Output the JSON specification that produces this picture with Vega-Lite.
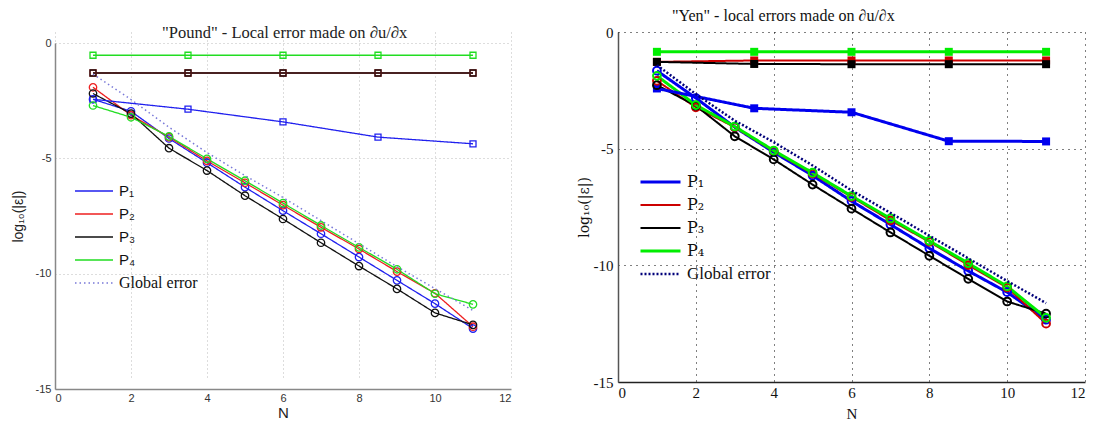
{
  "$schema": "https://vega.github.io/schema/vega-lite/v6.json",
  "padding": {"left": 11, "top": 8, "right": 5, "bottom": 0},
  "spacing": 66,
  "background": "white",
  "config": {"view": {"stroke": null}},
  "datasets": {
    "left": [
      {"s": "P₁", "k": "ci", "N": 1, "v": -2.44}, {"s": "P₁", "k": "ci", "N": 2, "v": -2.96}, {"s": "P₁", "k": "ci", "N": 3, "v": -4.14}, {"s": "P₁", "k": "ci", "N": 4, "v": -5.19}, {"s": "P₁", "k": "ci", "N": 5, "v": -6.25}, {"s": "P₁", "k": "ci", "N": 6, "v": -7.27}, {"s": "P₁", "k": "ci", "N": 7, "v": -8.27}, {"s": "P₁", "k": "ci", "N": 8, "v": -9.28}, {"s": "P₁", "k": "ci", "N": 9, "v": -10.29}, {"s": "P₁", "k": "ci", "N": 10, "v": -11.3}, {"s": "P₁", "k": "ci", "N": 11, "v": -12.38},
      {"s": "P₂", "k": "ci", "N": 1, "v": -1.92}, {"s": "P₂", "k": "ci", "N": 2, "v": -3.13}, {"s": "P₂", "k": "ci", "N": 3, "v": -4.08}, {"s": "P₂", "k": "ci", "N": 4, "v": -5.11}, {"s": "P₂", "k": "ci", "N": 5, "v": -6.06}, {"s": "P₂", "k": "ci", "N": 6, "v": -7.03}, {"s": "P₂", "k": "ci", "N": 7, "v": -7.99}, {"s": "P₂", "k": "ci", "N": 8, "v": -8.93}, {"s": "P₂", "k": "ci", "N": 9, "v": -9.91}, {"s": "P₂", "k": "ci", "N": 10, "v": -10.85}, {"s": "P₂", "k": "ci", "N": 11, "v": -12.3},
      {"s": "P₃", "k": "ci", "N": 1, "v": -2.19}, {"s": "P₃", "k": "ci", "N": 2, "v": -3.06}, {"s": "P₃", "k": "ci", "N": 3, "v": -4.56}, {"s": "P₃", "k": "ci", "N": 4, "v": -5.53}, {"s": "P₃", "k": "ci", "N": 5, "v": -6.62}, {"s": "P₃", "k": "ci", "N": 6, "v": -7.63}, {"s": "P₃", "k": "ci", "N": 7, "v": -8.66}, {"s": "P₃", "k": "ci", "N": 8, "v": -9.67}, {"s": "P₃", "k": "ci", "N": 9, "v": -10.66}, {"s": "P₃", "k": "ci", "N": 10, "v": -11.7}, {"s": "P₃", "k": "ci", "N": 11, "v": -12.22},
      {"s": "P₄", "k": "ci", "N": 1, "v": -2.71}, {"s": "P₄", "k": "ci", "N": 2, "v": -3.22}, {"s": "P₄", "k": "ci", "N": 3, "v": -4.05}, {"s": "P₄", "k": "ci", "N": 4, "v": -5.02}, {"s": "P₄", "k": "ci", "N": 5, "v": -5.97}, {"s": "P₄", "k": "ci", "N": 6, "v": -6.94}, {"s": "P₄", "k": "ci", "N": 7, "v": -7.91}, {"s": "P₄", "k": "ci", "N": 8, "v": -8.86}, {"s": "P₄", "k": "ci", "N": 9, "v": -9.81}, {"s": "P₄", "k": "ci", "N": 10, "v": -10.87}, {"s": "P₄", "k": "ci", "N": 11, "v": -11.33},
      {"s": "P₁", "k": "sq", "N": 1, "v": -2.44}, {"s": "P₁", "k": "sq", "N": 3.5, "v": -2.87}, {"s": "P₁", "k": "sq", "N": 6, "v": -3.42}, {"s": "P₁", "k": "sq", "N": 8.5, "v": -4.08}, {"s": "P₁", "k": "sq", "N": 11, "v": -4.37},
      {"s": "P₂", "k": "sq", "N": 1, "v": -1.3}, {"s": "P₂", "k": "sq", "N": 3.5, "v": -1.3}, {"s": "P₂", "k": "sq", "N": 6, "v": -1.3}, {"s": "P₂", "k": "sq", "N": 8.5, "v": -1.3}, {"s": "P₂", "k": "sq", "N": 11, "v": -1.3},
      {"s": "P₃", "k": "sq", "N": 1, "v": -1.3}, {"s": "P₃", "k": "sq", "N": 3.5, "v": -1.3}, {"s": "P₃", "k": "sq", "N": 6, "v": -1.3}, {"s": "P₃", "k": "sq", "N": 8.5, "v": -1.3}, {"s": "P₃", "k": "sq", "N": 11, "v": -1.3},
      {"s": "P₄", "k": "sq", "N": 1, "v": -0.53}, {"s": "P₄", "k": "sq", "N": 3.5, "v": -0.53}, {"s": "P₄", "k": "sq", "N": 6, "v": -0.53}, {"s": "P₄", "k": "sq", "N": 8.5, "v": -0.53}, {"s": "P₄", "k": "sq", "N": 11, "v": -0.53},
      {"s": "Global error", "k": "gl", "N": 1, "v": -1.35}, {"s": "Global error", "k": "gl", "N": 2, "v": -2.45}, {"s": "Global error", "k": "gl", "N": 3, "v": -3.65}, {"s": "Global error", "k": "gl", "N": 4, "v": -4.75}, {"s": "Global error", "k": "gl", "N": 5, "v": -5.75}, {"s": "Global error", "k": "gl", "N": 6, "v": -6.7}, {"s": "Global error", "k": "gl", "N": 7, "v": -7.7}, {"s": "Global error", "k": "gl", "N": 8, "v": -8.7}, {"s": "Global error", "k": "gl", "N": 9, "v": -9.7}, {"s": "Global error", "k": "gl", "N": 10, "v": -10.65}, {"s": "Global error", "k": "gl", "N": 11, "v": -11.6}
    ],
    "right": [
      {"s": "P₁", "k": "ci", "N": 1, "v": -1.66}, {"s": "P₁", "k": "ci", "N": 2, "v": -2.83}, {"s": "P₁", "k": "ci", "N": 3, "v": -4.08}, {"s": "P₁", "k": "ci", "N": 4, "v": -5.15}, {"s": "P₁", "k": "ci", "N": 5, "v": -6.15}, {"s": "P₁", "k": "ci", "N": 6, "v": -7.25}, {"s": "P₁", "k": "ci", "N": 7, "v": -8.25}, {"s": "P₁", "k": "ci", "N": 8, "v": -9.27}, {"s": "P₁", "k": "ci", "N": 9, "v": -10.24}, {"s": "P₁", "k": "ci", "N": 10, "v": -11.15}, {"s": "P₁", "k": "ci", "N": 11, "v": -12.33},
      {"s": "P₂", "k": "ci", "N": 1, "v": -2.09}, {"s": "P₂", "k": "ci", "N": 2, "v": -3.23}, {"s": "P₂", "k": "ci", "N": 3, "v": -4.08}, {"s": "P₂", "k": "ci", "N": 4, "v": -5.11}, {"s": "P₂", "k": "ci", "N": 5, "v": -6.07}, {"s": "P₂", "k": "ci", "N": 6, "v": -7.07}, {"s": "P₂", "k": "ci", "N": 7, "v": -8.07}, {"s": "P₂", "k": "ci", "N": 8, "v": -8.99}, {"s": "P₂", "k": "ci", "N": 9, "v": -9.99}, {"s": "P₂", "k": "ci", "N": 10, "v": -10.95}, {"s": "P₂", "k": "ci", "N": 11, "v": -12.5},
      {"s": "P₃", "k": "ci", "N": 1, "v": -2.28}, {"s": "P₃", "k": "ci", "N": 2, "v": -3.16}, {"s": "P₃", "k": "ci", "N": 3, "v": -4.47}, {"s": "P₃", "k": "ci", "N": 4, "v": -5.46}, {"s": "P₃", "k": "ci", "N": 5, "v": -6.54}, {"s": "P₃", "k": "ci", "N": 6, "v": -7.57}, {"s": "P₃", "k": "ci", "N": 7, "v": -8.59}, {"s": "P₃", "k": "ci", "N": 8, "v": -9.59}, {"s": "P₃", "k": "ci", "N": 9, "v": -10.58}, {"s": "P₃", "k": "ci", "N": 10, "v": -11.55}, {"s": "P₃", "k": "ci", "N": 11, "v": -12.07},
      {"s": "P₄", "k": "ci", "N": 1, "v": -1.88}, {"s": "P₄", "k": "ci", "N": 2, "v": -3.13}, {"s": "P₄", "k": "ci", "N": 3, "v": -4.05}, {"s": "P₄", "k": "ci", "N": 4, "v": -5.08}, {"s": "P₄", "k": "ci", "N": 5, "v": -6.03}, {"s": "P₄", "k": "ci", "N": 6, "v": -7.03}, {"s": "P₄", "k": "ci", "N": 7, "v": -7.99}, {"s": "P₄", "k": "ci", "N": 8, "v": -8.95}, {"s": "P₄", "k": "ci", "N": 9, "v": -9.91}, {"s": "P₄", "k": "ci", "N": 10, "v": -10.9}, {"s": "P₄", "k": "ci", "N": 11, "v": -12.25},
      {"s": "P₁", "k": "sq", "N": 1, "v": -2.42}, {"s": "P₁", "k": "sq", "N": 3.5, "v": -3.27}, {"s": "P₁", "k": "sq", "N": 6, "v": -3.44}, {"s": "P₁", "k": "sq", "N": 8.5, "v": -4.68}, {"s": "P₁", "k": "sq", "N": 11, "v": -4.69},
      {"s": "P₂", "k": "sq", "N": 1, "v": -1.28}, {"s": "P₂", "k": "sq", "N": 3.5, "v": -1.22}, {"s": "P₂", "k": "sq", "N": 6, "v": -1.22}, {"s": "P₂", "k": "sq", "N": 8.5, "v": -1.22}, {"s": "P₂", "k": "sq", "N": 11, "v": -1.22},
      {"s": "P₃", "k": "sq", "N": 1, "v": -1.28}, {"s": "P₃", "k": "sq", "N": 3.5, "v": -1.37}, {"s": "P₃", "k": "sq", "N": 6, "v": -1.38}, {"s": "P₃", "k": "sq", "N": 8.5, "v": -1.38}, {"s": "P₃", "k": "sq", "N": 11, "v": -1.38},
      {"s": "P₄", "k": "sq", "N": 1, "v": -0.85}, {"s": "P₄", "k": "sq", "N": 3.5, "v": -0.85}, {"s": "P₄", "k": "sq", "N": 6, "v": -0.85}, {"s": "P₄", "k": "sq", "N": 8.5, "v": -0.85}, {"s": "P₄", "k": "sq", "N": 11, "v": -0.85},
      {"s": "Global error", "k": "gl", "N": 1, "v": -1.42}, {"s": "Global error", "k": "gl", "N": 2, "v": -2.66}, {"s": "Global error", "k": "gl", "N": 3, "v": -3.8}, {"s": "Global error", "k": "gl", "N": 4, "v": -4.72}, {"s": "Global error", "k": "gl", "N": 5, "v": -5.72}, {"s": "Global error", "k": "gl", "N": 6, "v": -6.79}, {"s": "Global error", "k": "gl", "N": 7, "v": -7.75}, {"s": "Global error", "k": "gl", "N": 8, "v": -8.73}, {"s": "Global error", "k": "gl", "N": 9, "v": -9.7}, {"s": "Global error", "k": "gl", "N": 10, "v": -10.67}, {"s": "Global error", "k": "gl", "N": 11, "v": -11.62}
    ]
  },
  "hconcat": [
    {
      "width": 456,
      "height": 357,
      "data": {"name": "left"},
      "title": {"text": "\"Pound\" -  Local error made on  ∂u/∂x", "font": "Liberation Serif", "fontSize": 16.5, "fontWeight": "normal", "color": "#222", "anchor": "start", "frame": "group", "dx": 107, "offset": -9},
      "encoding": {
        "x": {"field": "N", "type": "quantitative", "scale": {"domain": [0, 12], "nice": false},
          "axis": {"title": "N", "values": [0, 2, 4, 6, 8, 10, 12], "labelExpr": "'' + datum.value", "grid": true, "gridDash": [1, 3], "gridColor": "#bbbbbb", "domainColor": "#888888", "domainWidth": 1.5, "ticks": false, "labelFont": "Liberation Sans", "labelFontSize": 11, "labelColor": "#333333", "labelPadding": 3, "titleFont": "Liberation Sans", "titleFontSize": 15, "titleFontWeight": "normal", "titleColor": "#222222", "titlePadding": 2}},
        "y": {"field": "v", "type": "quantitative", "scale": {"domain": [-15, 0], "nice": false, "range": [357, 11]},
          "axis": {"title": "log₁₀(|ε|)", "values": [-15, -10, -5, 0], "labelExpr": "'' + datum.value", "grid": true, "gridDash": [1, 3], "gridColor": "#bbbbbb", "domainColor": "#888888", "domainWidth": 1.5, "ticks": false, "labelFont": "Liberation Sans", "labelFontSize": 11, "labelColor": "#333333", "labelPadding": 4, "titleFont": "Liberation Sans", "titleFontSize": 14, "titleFontWeight": "normal", "titleColor": "#222222", "titlePadding": 10}},
        "color": {"field": "s", "type": "nominal",
          "scale": {"domain": ["P₁", "P₂", "P₃", "P₄", "Global error"], "range": ["#2020ee", "#ee2020", "#111111", "#22dd22", "#7878d8"]},
          "legend": {"title": null, "orient": "none", "legendX": 19, "legendY": 150, "symbolType": "stroke", "symbolSize": 1444, "clipHeight": 18, "rowPadding": 5, "labelOffset": 5, "padding": 0, "labelFont": "Liberation Sans", "labelFontSize": 15, "labelColor": "#111111",
            "encode": {"labels": {"update": {"font": {"signal": "datum.label == 'Global error' ? 'Liberation Serif' : 'Liberation Sans'"}, "fontSize": {"signal": "datum.label == 'Global error' ? 16 : 15"}}}}}}
      },
      "layer": [
        {
          "transform": [{"filter": "datum.k != 'gl'"}],
          "mark": {"type": "line"},
          "encoding": {
            "detail": {"field": "k"},
            "strokeDash": {"field": "s", "type": "nominal", "scale": {"domain": ["P₁", "P₂", "P₃", "P₄", "Global error"], "range": [[1, 0], [1, 0], [1, 0], [1, 0], [1.5, 3]]}, "legend": {"title": null, "orient": "none", "legendX": 19, "legendY": 150, "symbolType": "stroke", "symbolSize": 1444, "clipHeight": 18, "rowPadding": 5, "labelOffset": 5, "padding": 0, "labelFont": "Liberation Sans", "labelFontSize": 15}},
            "strokeWidth": {"field": "s", "type": "nominal", "scale": {"type": "ordinal", "domain": ["P₁", "P₂", "P₃", "P₄", "Global error"], "range": [1.3, 1.3, 1.3, 1.3, 1.5]}, "legend": {"title": null, "orient": "none", "legendX": 19, "legendY": 150, "symbolType": "stroke", "symbolSize": 1444, "clipHeight": 18, "rowPadding": 5, "labelOffset": 5, "padding": 0, "labelFont": "Liberation Sans", "labelFontSize": 15}}
          }
        },
        {
          "transform": [{"filter": "datum.k == 'sq'"}],
          "mark": {"type": "point", "shape": "square", "filled": false, "size": 36, "strokeWidth": 1.3, "opacity": 1}
        },
        {
          "transform": [{"filter": "datum.k == 'ci'"}],
          "mark": {"type": "point", "shape": "circle", "filled": false, "size": 55, "strokeWidth": 1.3, "opacity": 1}
        },
        {
          "transform": [{"filter": "datum.k == 'gl'"}],
          "mark": {"type": "line"},
          "encoding": {
            "strokeDash": {"field": "s", "type": "nominal", "scale": {"domain": ["P₁", "P₂", "P₃", "P₄", "Global error"], "range": [[1, 0], [1, 0], [1, 0], [1, 0], [1.5, 3]]}, "legend": {"title": null, "orient": "none", "legendX": 19, "legendY": 150, "symbolType": "stroke", "symbolSize": 1444, "clipHeight": 18, "rowPadding": 5, "labelOffset": 5, "padding": 0, "labelFont": "Liberation Sans", "labelFontSize": 15}},
            "strokeWidth": {"field": "s", "type": "nominal", "scale": {"type": "ordinal", "domain": ["P₁", "P₂", "P₃", "P₄", "Global error"], "range": [1.3, 1.3, 1.3, 1.3, 1.5]}, "legend": {"title": null, "orient": "none", "legendX": 19, "legendY": 150, "symbolType": "stroke", "symbolSize": 1444, "clipHeight": 18, "rowPadding": 5, "labelOffset": 5, "padding": 0, "labelFont": "Liberation Sans", "labelFontSize": 15}}
          }
        }
      ]
    },
    {
      "width": 467,
      "height": 350,
      "data": {"name": "right"},
      "title": {"text": "\"Yen\" -  local errors made on ∂u/∂x", "font": "Liberation Serif", "fontSize": 16, "fontWeight": "normal", "color": "#111111", "anchor": "start", "frame": "group", "dx": 54, "offset": 1},
      "encoding": {
        "x": {"field": "N", "type": "quantitative", "scale": {"domain": [0, 12], "nice": false},
          "axis": {"title": "N", "values": [0, 2, 4, 6, 8, 10, 12], "labelExpr": "'' + datum.value", "grid": true, "gridDash": [1, 5], "gridColor": "#000000", "domainColor": "#222222", "domainWidth": 1.5, "ticks": false, "labelFont": "Liberation Serif", "labelFontSize": 15, "labelColor": "#111111", "labelPadding": 3, "titleFont": "Liberation Serif", "titleFontSize": 15, "titleFontWeight": "normal", "titleColor": "#111111", "titlePadding": 6}},
        "y": {"field": "v", "type": "quantitative", "scale": {"domain": [-15, 0], "nice": false},
          "axis": {"title": "log₁₀(|ε|)", "values": [-15, -10, -5, 0], "labelExpr": "'' + datum.value", "grid": true, "gridDash": [1, 5], "gridColor": "#000000", "domainColor": "#555555", "domainWidth": 1.5, "ticks": false, "labelFont": "Liberation Serif", "labelFontSize": 15, "labelColor": "#111111", "labelPadding": 5, "titleFont": "DejaVu Serif", "titleFontSize": 14, "titleFontWeight": "normal", "titleColor": "#111111", "titlePadding": 2}},
        "color": {"field": "s", "type": "nominal",
          "scale": {"domain": ["P₁", "P₂", "P₃", "P₄", "Global error"], "range": ["#0000ee", "#cc0000", "#000000", "#00ee00", "#00007a"]},
          "legend": {"title": null, "orient": "none", "legendX": 21, "legendY": 141, "symbolType": "stroke", "symbolSize": 1600, "clipHeight": 18, "rowPadding": 5, "labelOffset": 5, "padding": 0, "labelFont": "Liberation Serif", "labelFontSize": 17, "labelColor": "#111111",
            "encode": {"labels": {"update": {"font": {"signal": "datum.label == 'Global error' ? 'Liberation Serif' : 'DejaVu Serif'"}, "fontSize": {"signal": "datum.label == 'Global error' ? 17 : 16"}}}}}}
      },
      "layer": [
        {
          "transform": [{"filter": "datum.k != 'gl'"}],
          "mark": {"type": "line"},
          "encoding": {
            "detail": {"field": "k"},
            "strokeDash": {"field": "s", "type": "nominal", "scale": {"domain": ["P₁", "P₂", "P₃", "P₄", "Global error"], "range": [[1, 0], [1, 0], [1, 0], [1, 0], [2, 2]]}, "legend": {"title": null, "orient": "none", "legendX": 21, "legendY": 141, "symbolType": "stroke", "symbolSize": 1600, "clipHeight": 18, "rowPadding": 5, "labelOffset": 5, "padding": 0, "labelFont": "Liberation Serif", "labelFontSize": 17}},
            "strokeWidth": {"field": "s", "type": "nominal", "scale": {"type": "ordinal", "domain": ["P₁", "P₂", "P₃", "P₄", "Global error"], "range": [3, 2, 2, 3, 2.5]}, "legend": {"title": null, "orient": "none", "legendX": 21, "legendY": 141, "symbolType": "stroke", "symbolSize": 1600, "clipHeight": 18, "rowPadding": 5, "labelOffset": 5, "padding": 0, "labelFont": "Liberation Serif", "labelFontSize": 17}}
          }
        },
        {
          "transform": [{"filter": "datum.k == 'sq'"}],
          "mark": {"type": "point", "shape": "square", "filled": true, "size": 64, "opacity": 1}
        },
        {
          "transform": [{"filter": "datum.k == 'ci'"}],
          "mark": {"type": "point", "shape": "circle", "filled": false, "size": 60, "strokeWidth": 2, "opacity": 1}
        },
        {
          "transform": [{"filter": "datum.k == 'gl'"}],
          "mark": {"type": "line"},
          "encoding": {
            "strokeDash": {"field": "s", "type": "nominal", "scale": {"domain": ["P₁", "P₂", "P₃", "P₄", "Global error"], "range": [[1, 0], [1, 0], [1, 0], [1, 0], [2, 2]]}, "legend": {"title": null, "orient": "none", "legendX": 21, "legendY": 141, "symbolType": "stroke", "symbolSize": 1600, "clipHeight": 18, "rowPadding": 5, "labelOffset": 5, "padding": 0, "labelFont": "Liberation Serif", "labelFontSize": 17}},
            "strokeWidth": {"field": "s", "type": "nominal", "scale": {"type": "ordinal", "domain": ["P₁", "P₂", "P₃", "P₄", "Global error"], "range": [3, 2, 2, 3, 2.5]}, "legend": {"title": null, "orient": "none", "legendX": 21, "legendY": 141, "symbolType": "stroke", "symbolSize": 1600, "clipHeight": 18, "rowPadding": 5, "labelOffset": 5, "padding": 0, "labelFont": "Liberation Serif", "labelFontSize": 17}}
          }
        }
      ]
    }
  ],
  "resolve": {
    "scale": {"x": "independent", "y": "independent", "color": "independent", "strokeDash": "independent", "strokeWidth": "independent"},
    "legend": {"color": "independent", "strokeDash": "independent", "strokeWidth": "independent"}
  }
}
